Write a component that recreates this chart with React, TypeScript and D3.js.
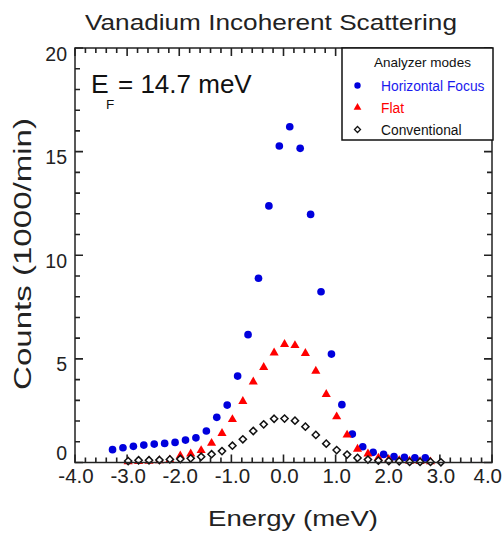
import React from "react";
import * as d3 from "d3";

const W = 504;
const H = 533;

// Horizontal Focus (blue circles)
const focusEnergy = [-3.28, -3.08, -2.88, -2.68, -2.48, -2.28, -2.08, -1.88, -1.68, -1.48, -1.28, -1.08, -0.88, -0.68, -0.48, -0.28, -0.08, 0.12, 0.32, 0.52, 0.72, 0.92, 1.12, 1.32, 1.52, 1.72, 1.92, 2.12, 2.32, 2.52, 2.72];
const focusCounts = [0.62, 0.71, 0.78, 0.84, 0.89, 0.92, 0.97, 1.08, 1.19, 1.52, 2.18, 2.77, 4.17, 6.17, 8.89, 12.38, 15.27, 16.2, 15.16, 11.97, 8.24, 5.23, 2.79, 1.37, 0.76, 0.49, 0.39, 0.28, 0.25, 0.23, 0.22];

// Flat (red triangles)
const flatEnergy = [-2.98, -2.78, -2.58, -2.38, -2.18, -1.98, -1.78, -1.58, -1.38, -1.18, -0.98, -0.78, -0.58, -0.38, -0.18, 0.02, 0.22, 0.42, 0.62, 0.82, 1.02, 1.22, 1.42, 1.62, 1.82, 2.02, 2.22, 2.42, 2.62, 2.82];
const flatCounts = [0.04, 0.05, 0.07, 0.09, 0.13, 0.32, 0.42, 0.58, 0.93, 1.41, 2.08, 2.95, 3.89, 4.59, 5.29, 5.7, 5.65, 5.27, 4.41, 3.29, 2.21, 1.33, 0.65, 0.42, 0.22, 0.15, 0.1, 0.07, 0.05, 0.04];

// Conventional (open diamonds)
const convEnergy = [-2.98, -2.78, -2.58, -2.38, -2.18, -1.98, -1.78, -1.58, -1.38, -1.18, -0.98, -0.78, -0.58, -0.38, -0.18, 0.02, 0.22, 0.42, 0.62, 0.82, 1.02, 1.22, 1.42, 1.62, 1.82, 2.02, 2.22, 2.42, 2.62, 2.82, 3.02];
const convCounts = [0.07, 0.11, 0.11, 0.12, 0.15, 0.17, 0.2, 0.28, 0.4, 0.55, 0.81, 1.12, 1.52, 1.84, 2.11, 2.12, 2.02, 1.73, 1.33, 0.91, 0.6, 0.38, 0.22, 0.14, 0.09, 0.07, 0.06, 0.03, 0.03, 0.03, 0.01];

const xTickValues = [-4, -3, -2, -1, 0, 1, 2, 3, 4];
const yTickValues = [0, 5, 10, 15, 20];
const legendLabels = ["Horizontal Focus", "Flat", "Conventional"];
const legendColors = ["#1a1aee", "#ff0000", "#111111"];

const FONT = "'Liberation Sans', Arial, Helvetica, sans-serif";

export default function App() {
  const left = 75, right = 492, top = 48, bottom = 462.5;
  const x = d3.scaleLinear().domain([-4, 4]).range([left, right]);
  const y = d3.scaleLinear().domain([0, 20]).range([bottom, top]);

  const xMinor = d3.range(-40, 41, 2).map((v) => v / 10);
  const yMinor = d3.range(0, 21, 1);

  const circle = d3.symbol().type(d3.symbolCircle).size(46)();
  const tri = d3.symbol().type(d3.symbolTriangle).size(36)();
  const diamond = "M0,-3.6L3.6,0L0,3.6L-3.6,0Z";
  const circleL = d3.symbol().type(d3.symbolCircle).size(32)();
  const triL = d3.symbol().type(d3.symbolTriangle).size(26)();
  const diamondL = "M0,-3L3,0L0,3L-3,0Z";

  const focus = focusEnergy.map((e, i) => [e, focusCounts[i]]);
  const flat = flatEnergy.map((e, i) => [e, flatCounts[i]]);
  const conv = convEnergy.map((e, i) => [e, convCounts[i]]);

  const axisColor = "#222";
  const isMajorX = (v: number) => Math.abs(v - Math.round(v)) < 1e-6;
  const isMajorY = (v: number) => v % 5 === 0;

  const tickPath = d3.path();
  xMinor.forEach((v) => {
    const len = isMajorX(v) ? 8 : 5;
    const px = x(v);
    tickPath.moveTo(px, bottom);
    tickPath.lineTo(px, bottom - len);
    tickPath.moveTo(px, top);
    tickPath.lineTo(px, top + len);
  });
  yMinor.forEach((v) => {
    const len = isMajorY(v) ? 8 : 5;
    const py = y(v);
    tickPath.moveTo(left, py);
    tickPath.lineTo(left + len, py);
    tickPath.moveTo(right, py);
    tickPath.lineTo(right - len, py);
  });

  const legX = 342, legY = 48, legW = 151, legH = 92;

  return (
    <svg width={W} height={H} style={{ position: "absolute", left: 0, top: 0, background: "#fff" }} fontFamily={FONT}>
      <rect x={0} y={0} width={W} height={H} fill="#fff" />
      {/* title */}
      <text x={271} y={30} fontSize={22} textAnchor="middle" fill="#222" textLength={372} lengthAdjust="spacingAndGlyphs">
        Vanadium Incoherent Scattering
      </text>

      {/* ticks */}
      <path d={tickPath.toString()} fill="none" stroke={axisColor} strokeWidth={1.6} />

      {/* data: circles, triangles, diamonds */}
      <g fill="#0000dd">
        {focus.map((d, i) => (
          <path key={"f" + i} d={circle} transform={`translate(${x(d[0])},${y(d[1])})`} />
        ))}
      </g>
      <g fill="#ff0000">
        {flat.map((d, i) => (
          <path key={"t" + i} d={tri} transform={`translate(${x(d[0])},${y(d[1])})`} />
        ))}
      </g>
      <g fill="#fff" stroke="#111" strokeWidth={1.5}>
        {conv.map((d, i) => (
          <path key={"c" + i} d={diamond} transform={`translate(${x(d[0])},${y(d[1])})`} />
        ))}
      </g>

      {/* frame */}
      <rect x={left} y={top} width={right - left} height={bottom - top} fill="none" stroke={axisColor} strokeWidth={1.5} />

      {/* x tick labels */}
      {xTickValues.map((v) => (
        <text
          key={"xl" + v}
          x={v === 4 ? 502 : x(v) + 1}
          y={483}
          fontSize={20.5}
          textAnchor={v === 4 ? "end" : "middle"}
          fill="#222"
        >
          {d3.format(".1f")(v).replace("−", "-")}
        </text>
      ))}
      {/* y tick labels */}
      {yTickValues.map((v) => (
        <text key={"yl" + v} x={67} y={y(v) + (v === 0 ? -2.5 : 12.5)} fontSize={19.5} textAnchor="end" fill="#222">
          {v}
        </text>
      ))}

      {/* axis titles */}
      <text x={293} y={526} fontSize={22.5} textAnchor="middle" fill="#222" textLength={170} lengthAdjust="spacingAndGlyphs">
        Energy (meV)
      </text>
      <text transform="translate(31,254) rotate(-90)" fontSize={23} textAnchor="middle" fill="#222" textLength={272} lengthAdjust="spacingAndGlyphs">
        Counts (1000/min)
      </text>

      {/* E_F annotation */}
      <text x={91} y={93} fontSize={26.5} fill="#111">E</text>
      <text x={106} y={109} fontSize={13.5} fill="#111">F</text>
      <text x={118} y={93} fontSize={26} fill="#111">= 14.7 meV</text>

      {/* legend */}
      <rect x={legX} y={legY} width={legW} height={legH} fill="#fff" stroke="#111" strokeWidth={1.5} />
      <text x={422.5} y={67} fontSize={13.5} textAnchor="middle" fill="#111">Analyzer modes</text>
      {legendLabels.map((lab, i) => {
        const cy = 85.5 + i * 22;
        const sym = i === 0 ? circleL : i === 1 ? triL : diamondL;
        return (
          <g key={"lg" + i}>
            {i === 2 ? (
              <path d={sym} transform={`translate(357.5,${cy})`} fill="#fff" stroke="#111" strokeWidth={1.3} />
            ) : (
              <path d={sym} transform={`translate(357.5,${cy})`} fill={i === 0 ? "#0000dd" : "#ff0000"} />
            )}
            <text x={381} y={cy + 5} fontSize={13.8} fill={legendColors[i]}>{lab}</text>
          </g>
        );
      })}
    </svg>
  );
}
